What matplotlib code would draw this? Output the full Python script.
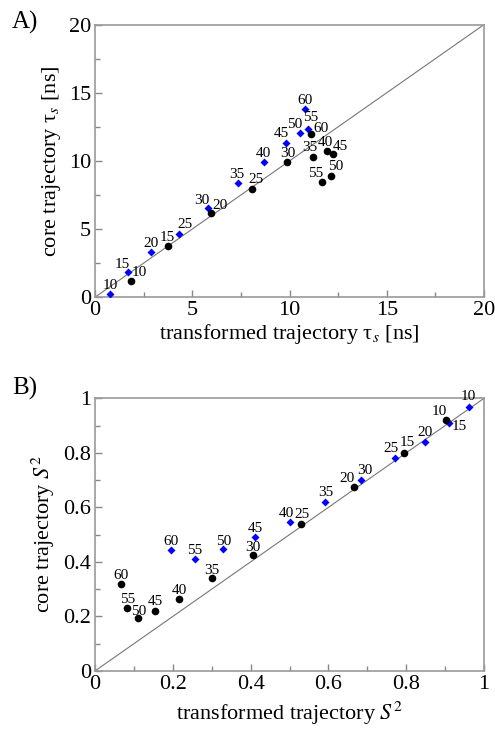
import matplotlib
matplotlib.use('Agg')
import matplotlib.pyplot as plt
from matplotlib.ticker import MultipleLocator

plt.rcParams['font.family'] = ['Liberation Serif', 'DejaVu Serif']
plt.rcParams['mathtext.fontset'] = 'stix'

# ── data: labels are lag / window values ──
labels = [10, 15, 20, 25, 30, 35, 40, 45, 50, 55, 60]

# Panel A: tau_s [ns]
tau_blue_x = [0.77, 1.71, 2.88, 4.30, 5.83, 7.35, 8.67, 9.80, 10.54, 10.93, 10.80]
tau_blue_y = [0.24, 1.84, 3.28, 4.65, 6.56, 8.35, 9.89, 11.31, 12.04, 12.34, 13.78]
tau_black_x = [1.83, 3.77, 5.98, 8.07, 9.89, 11.21, 11.91, 12.25, 12.12, 11.67, 11.12]
tau_black_y = [1.20, 3.79, 6.17, 7.96, 9.91, 10.31, 10.70, 10.53, 8.89, 8.42, 11.97]

# Panel B: S^2
s2_blue_x = [0.960, 0.911, 0.847, 0.770, 0.684, 0.592, 0.500, 0.412, 0.330, 0.256, 0.194]
s2_blue_y = [0.969, 0.911, 0.840, 0.781, 0.700, 0.621, 0.546, 0.491, 0.446, 0.410, 0.443]
s2_black_x = [0.903, 0.794, 0.666, 0.530, 0.405, 0.301, 0.216, 0.154, 0.111, 0.083, 0.066]
s2_black_y = [0.921, 0.801, 0.676, 0.540, 0.424, 0.340, 0.262, 0.220, 0.194, 0.230, 0.318]

# label offsets in pixels (style only)
off_a_blue = [(0, 8), (-6, 8), (0, 9), (6, 9), (-7, 7), (-1, 9), (0, 9), (-4, 9), (-5, 9), (3, 11), (0, 9)]
off_a_black = [(9, 8), (-1, 8), (9, 8), (4, 9), (0, 9), (-3, 9), (-1, 9), (7, 7), (5, 9), (-6, 9), (10, 6)]
off_b_blue = [(0, 10), (10, -4), (0, 9), (-4, 9), (4, 10), (0, 9), (-3, 9), (0, 9), (0, 8), (0, 9), (0, 9)]
off_b_black = [(-7, 8), (3, 10), (-7, 8), (1, 9), (0, 8), (0, 8), (0, 9), (0, 9), (0, 7), (0, 9), (0, 9)]

fig = plt.figure(figsize=(4.95, 7.43), dpi=100)
axA = fig.add_axes([0.192, 0.600, 0.786, 0.367])
axB = fig.add_axes([0.192, 0.097, 0.786, 0.367])


def panel(ax, bx, by, kx, ky, boff, koff, lim, major, minor):
    ax.plot([0, lim], [0, lim], color='#777777', lw=0.8, zorder=1)
    ax.plot(bx, by, 'D', color='#0000ff', ms=4, mec='none', zorder=3)
    ax.plot(kx, ky, 'o', color='black', ms=5.5, mec='none', zorder=3)
    for xs, ys, offs in [(bx, by, boff), (kx, ky, koff)]:
        for x, y, lab, o in zip(xs, ys, labels, offs):
            ax.annotate(str(lab), (x, y), xytext=o, textcoords='offset pixels',
                        ha='center', va='center', fontsize=11, zorder=4)
    ax.set_xlim(0, lim)
    ax.set_ylim(0, lim)
    ax.xaxis.set_major_locator(MultipleLocator(major))
    ax.yaxis.set_major_locator(MultipleLocator(major))
    ax.xaxis.set_minor_locator(MultipleLocator(minor))
    ax.yaxis.set_minor_locator(MultipleLocator(minor))
    ax.tick_params(which='both', direction='in', colors='#888888', labelcolor='black',
                   labelsize=16, top=False, right=False, pad=3)
    ax.tick_params(which='major', length=5, width=1)
    ax.tick_params(which='minor', length=3.5, width=1)
    for s in ax.spines.values():
        s.set_color('#999999')
        s.set_linewidth(1.2)


panel(axA, tau_blue_x, tau_blue_y, tau_black_x, tau_black_y, off_a_blue, off_a_black, 20, 5, 2.5)
axA.set_xlabel(r'transformed trajectory τ$_s$ [ns]', fontsize=16, labelpad=1)
axA.set_ylabel(r'core trajectory τ$_s$ [ns]', fontsize=16, labelpad=4)

panel(axB, s2_blue_x, s2_blue_y, s2_black_x, s2_black_y, off_b_blue, off_b_black, 1, 0.2, 0.1)
axB.set_xticks([0, 0.2, 0.4, 0.6, 0.8, 1.0])
axB.set_xticklabels(['0', '0.2', '0.4', '0.6', '0.8', '1'])
axB.set_yticks([0, 0.2, 0.4, 0.6, 0.8, 1.0])
axB.set_yticklabels(['0', '0.2', '0.4', '0.6', '0.8', '1'])
axB.set_xlabel(r'transformed trajectory $S^2$', fontsize=16, labelpad=4)
axB.set_ylabel(r'core trajectory $S^2$', fontsize=16, labelpad=4)

fig.text(0.024, 0.970, 'A)', fontsize=18, ha='left', va='center')
fig.text(0.024, 0.477, 'B)', fontsize=18, ha='left', va='center')

fig.savefig('out.png', dpi=100)
